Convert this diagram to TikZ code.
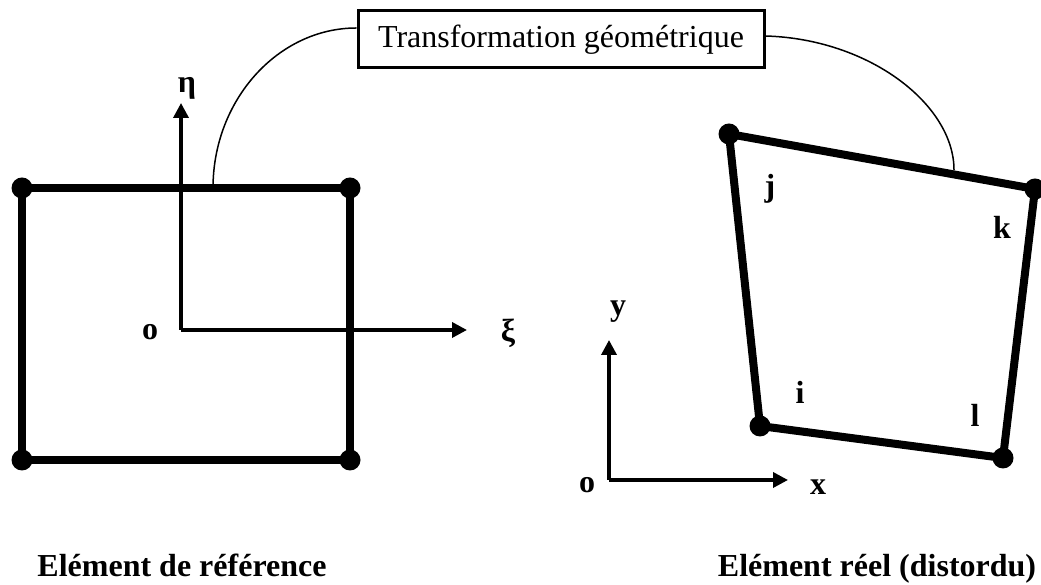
\documentclass[tikz,border=0pt]{standalone}
\usepackage{fontspec}
\setmainfont{Liberation Serif}
\usetikzlibrary{arrows.meta, positioning}

\tikzset{
  corner/.style={circle, fill=black, inner sep=0pt, minimum size=21pt},
  edge/.style={line width=8pt},
  axis/.style={line width=3.5pt, -{Triangle[length=15pt,width=15pt]}},
  lbl/.style={font=\fontsize{32}{38}\selectfont\bfseries, inner sep=0pt},
  link/.style={line width=1.5pt}
}

\begin{document}
\begin{tikzpicture}[x=1pt,y=1pt,font=\fontsize{32}{38}\selectfont]
\useasboundingbox (0,0) rectangle (1041,585);
% reference element
\node[corner] (ra) at (22,397) {};
\node[corner] (rb) at (350,397) {};
\node[corner] (rc) at (350,125) {};
\node[corner] (rd) at (22,125) {};
\draw[edge] (ra.center) -- (rb.center) -- (rc.center) -- (rd.center) -- cycle;
\coordinate (ro) at (181,255);
\coordinate (reta) at (181,482);
\coordinate (rxi) at (467,255);
\draw[axis] (ro) -- (reta);
\draw[axis] (ro) -- (rxi);
\node[lbl] (leta) at (187,497) {η};
\node[lbl] (lxi) at (508,252) {ξ};
\node[lbl] (lro) at (150,253) {o};
% real element
\node[corner] (qj) at (729,451) {};
\node[corner] (qk) at (1035,396) {};
\node[corner] (ql) at (1003,127) {};
\node[corner] (qi) at (760,159) {};
\draw[edge] (qj.center) -- (qk.center) -- (ql.center) -- (qi.center) -- cycle;
\node[lbl] (lj) at (770,396) {j};
\node[lbl] (lk) at (1002,358) {k};
\node[lbl] (li) at (800,193) {i};
\node[lbl] (ll) at (975,170) {l};
\coordinate (so) at (609,105);
\coordinate (sy) at (609,245);
\coordinate (sx) at (788,105);
\draw[axis] (so) -- (sy);
\draw[axis] (so) -- (sx);
\node[lbl] (lso) at (587,100) {o};
\node[lbl] (lsx) at (818,98) {x};
\node[lbl] (lsy) at (618,273) {y};
% transformation
\node[draw, line width=3pt, minimum width=406pt, minimum height=57pt, inner sep=0pt]
  (trans) at (561,545.5) {Transformation géométrique};
\coordinate (tl) at (213,397);
\coordinate (tr) at (954,415);
\draw[link] ([yshift=11.5pt]trans.west) .. controls (278,557) and (213,485) .. (tl);
\draw[link] ([yshift=3.5pt]trans.east) .. controls (870,546) and (954,480) .. (tr);
% captions
\node[lbl, anchor=base] (capref) at (182,8) {Elément de référence};
\node[lbl, anchor=base] (capreal) at (877,8) {Elément réel (distordu)};
\end{tikzpicture}
\end{document}
